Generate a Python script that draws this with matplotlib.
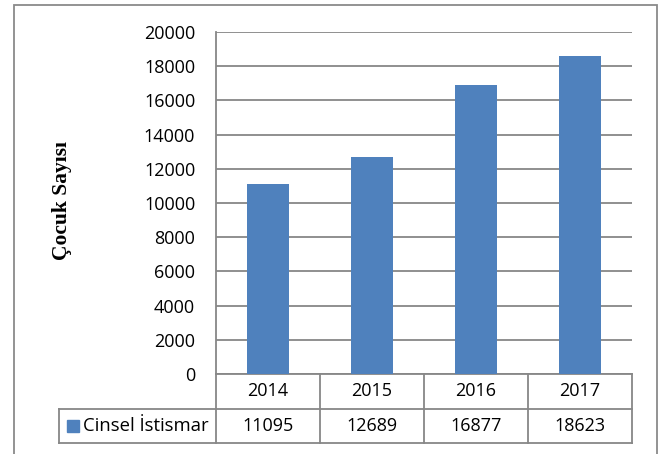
import matplotlib.pyplot as plt
from matplotlib.patches import Rectangle
import numpy as np

years = ["2014", "2015", "2016", "2017"]
values = [11095, 12689, 16877, 18623]
series_name = "Cinsel İstismar"
y_label = "Çocuk Sayısı"

W, H = 665, 454
fig = plt.figure(figsize=(W / 100, H / 100), dpi=100)
plt.rcParams['font.family'] = ['Open Sans', 'DejaVu Sans']

grid_c = '#878787'
bar_c = '#4F81BD'

# plot area in pixels: left 216, right 632, top 32, bottom 374
ax = fig.add_axes([216 / W, (H - 374) / H, (632 - 216) / W, (374 - 32) / H])
x = np.arange(len(years))
ax.bar(x, values, width=0.4, color=bar_c, zorder=3)
ax.set_xlim(-0.5, len(years) - 0.5)
ax.set_ylim(0, 20000)
ax.set_yticks(np.arange(0, 20001, 2000))
ax.tick_params(axis='y', length=0, pad=15, labelsize=13)
ax.set_xticks([])
ax.grid(axis='y', color=grid_c, linewidth=1.3, zorder=0)
for s in ['top', 'right', 'bottom']:
    ax.spines[s].set_visible(False)
ax.spines['left'].set_color(grid_c)
ax.spines['left'].set_linewidth(1.3)

# data table under the plot
trans = ax.get_xaxis_transform()
r1 = -35 / 342
r2 = -69 / 342
lab_left = -0.5 - (216 - 59) / 104
kw = dict(color=grid_c, linewidth=1.3, transform=trans, clip_on=False)
ax.plot([-0.5, 3.5], [0, 0], **kw)
ax.plot([lab_left, 3.5], [r1, r1], **kw)
ax.plot([lab_left, 3.5], [r2, r2], **kw)
ax.plot([lab_left, lab_left], [r1, r2], **kw)
for i in range(len(years) + 1):
    ax.plot([i - 0.5, i - 0.5], [0, r2], **kw)
for i, (yr, v) in enumerate(zip(years, values)):
    ax.text(i, r1 / 2, yr, transform=trans, ha='center', va='center', fontsize=13)
    ax.text(i, (r1 + r2) / 2, str(v), transform=trans, ha='center', va='center', fontsize=13)
ax.plot([-0.5 - (216 - 73) / 104], [(r1 + r2) / 2], marker='s', markersize=8.5, color=bar_c,
        transform=trans, clip_on=False)
ax.text(-0.5 - (216 - 83) / 104, (r1 + r2) / 2, series_name, transform=trans, ha='left',
        va='center', fontsize=13.3)

fig.text(62 / W, 1 - 200 / H, y_label, rotation=90, ha='center', va='center',
         family='Liberation Serif', fontweight='bold', fontsize=15.5)

# outer chart border
fig.patches.append(Rectangle((14 / W, -0.05), (657 - 14) / W, 1.05 - 5 / H, transform=fig.transFigure,
                             fill=False, edgecolor='#8a8a8a', linewidth=1.3))

fig.savefig('out.png', dpi=100)
